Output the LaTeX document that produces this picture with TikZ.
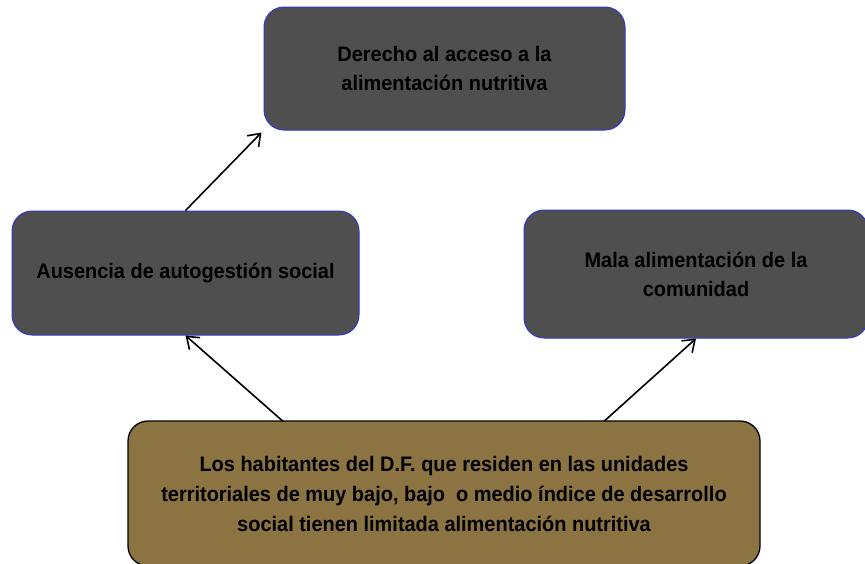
\documentclass[tikz,border=0pt]{standalone}
\usepackage{fontspec}
\setmainfont{Liberation Sans}[FakeStretch=0.95]
\usetikzlibrary{arrows.meta,calc}
\definecolor{boxgray}{HTML}{4F4F4F}
\definecolor{boxblue}{HTML}{3434D0}
\definecolor{olive}{HTML}{8B7342}
\tikzset{
  graybox/.style={draw=boxblue, line width=1pt, fill=boxgray, rounded corners=20pt,
    align=center, inner sep=0pt, font=\bfseries\fontsize{21}{29}\selectfont, text=black},
  olivebox/.style={draw=black, line width=1.3pt, fill=olive, rounded corners=20pt,
    align=center, inner sep=0pt, font=\bfseries\fontsize{21}{30}\selectfont, text=black},
  arr/.style={-{Straight Barb[length=11pt,width=16pt,line width=1.6pt]}, line width=1.6pt, black}
}
\begin{document}
\begin{tikzpicture}[x=1pt,y=-1pt]
\useasboundingbox (0,0) rectangle (865,563);
\node[graybox, minimum width=361pt, minimum height=123pt] (top) at (444.5,68.5)
  {Derecho al acceso a la\\alimentación nutritiva};
\node[graybox, minimum width=347pt, minimum height=124pt] (left) at (185.5,273)
  {Ausencia de autogestión social};
\node[graybox, minimum width=344pt, minimum height=128pt] (right) at (696,274)
  {Mala alimentación de la\\comunidad};
\node[olivebox, minimum width=632pt, minimum height=145pt] (bot) at (444,493.5)
  {Los habitantes del D.F. que residen en las unidades\\territoriales de muy bajo, bajo~ o medio índice de desarrollo\\social tienen limitada alimentación nutritiva};
\coordinate (bl) at ($(bot.north)+(-161,1)$);
\coordinate (br) at ($(bot.north)+(160,1)$);
\draw[arr] (left.north) -- ($(top.south west)+(-2,2)$);
\draw[arr] (bl) -- (left.south);
\draw[arr] (br) -- (right.south);
\end{tikzpicture}
\end{document}
